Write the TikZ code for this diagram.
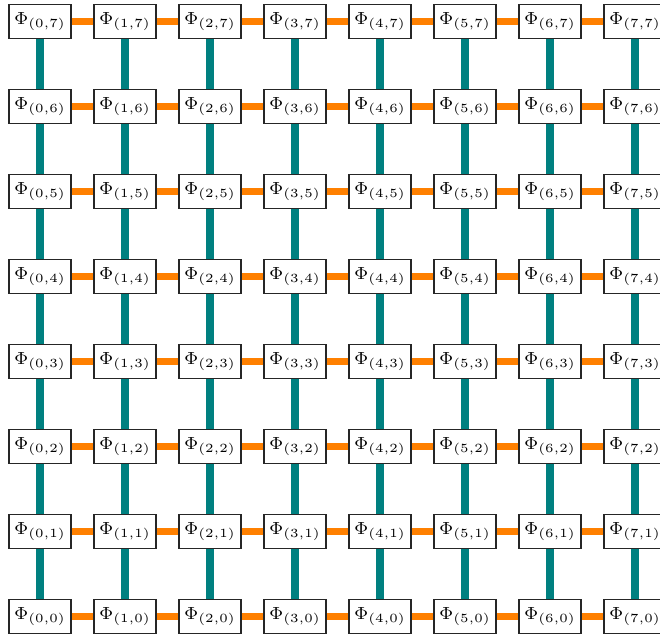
\documentclass[tikz,border=0pt]{standalone}
\tikzset{
  phinode/.style={draw=black!85, semithick, fill=white, minimum width=24.8pt, minimum height=13.6pt, inner sep=0pt, font=\fontsize{7.5}{9}\selectfont},
  hedge/.style={draw=orange, line width=3pt},
  vedge/.style={draw=teal, line width=3.2pt}
}
\begin{document}
\begin{tikzpicture}[x=1pt,y=1pt]
\useasboundingbox (0,0) rectangle (264,254.8);
\clip (0,0) rectangle (264,254.8);
\foreach \i in {0,...,7}{
  \foreach \j in {0,...,7}{
    \node[phinode] (n-\i-\j) at ({16+34*\i},{8.2+34*\j}) {$\Phi_{(\i,\j)}$};
  }
}
\foreach \i in {0,...,6}{
  \pgfmathtruncatemacro{\ni}{\i+1}
  \foreach \j in {0,...,7}{
    \draw[hedge] (n-\i-\j) -- (n-\ni-\j);
  }
}
\foreach \i in {0,...,7}{
  \foreach \j in {0,...,6}{
    \pgfmathtruncatemacro{\nj}{\j+1}
    \draw[vedge] (n-\i-\j) -- (n-\i-\nj);
  }
}
\end{tikzpicture}
\end{document}
